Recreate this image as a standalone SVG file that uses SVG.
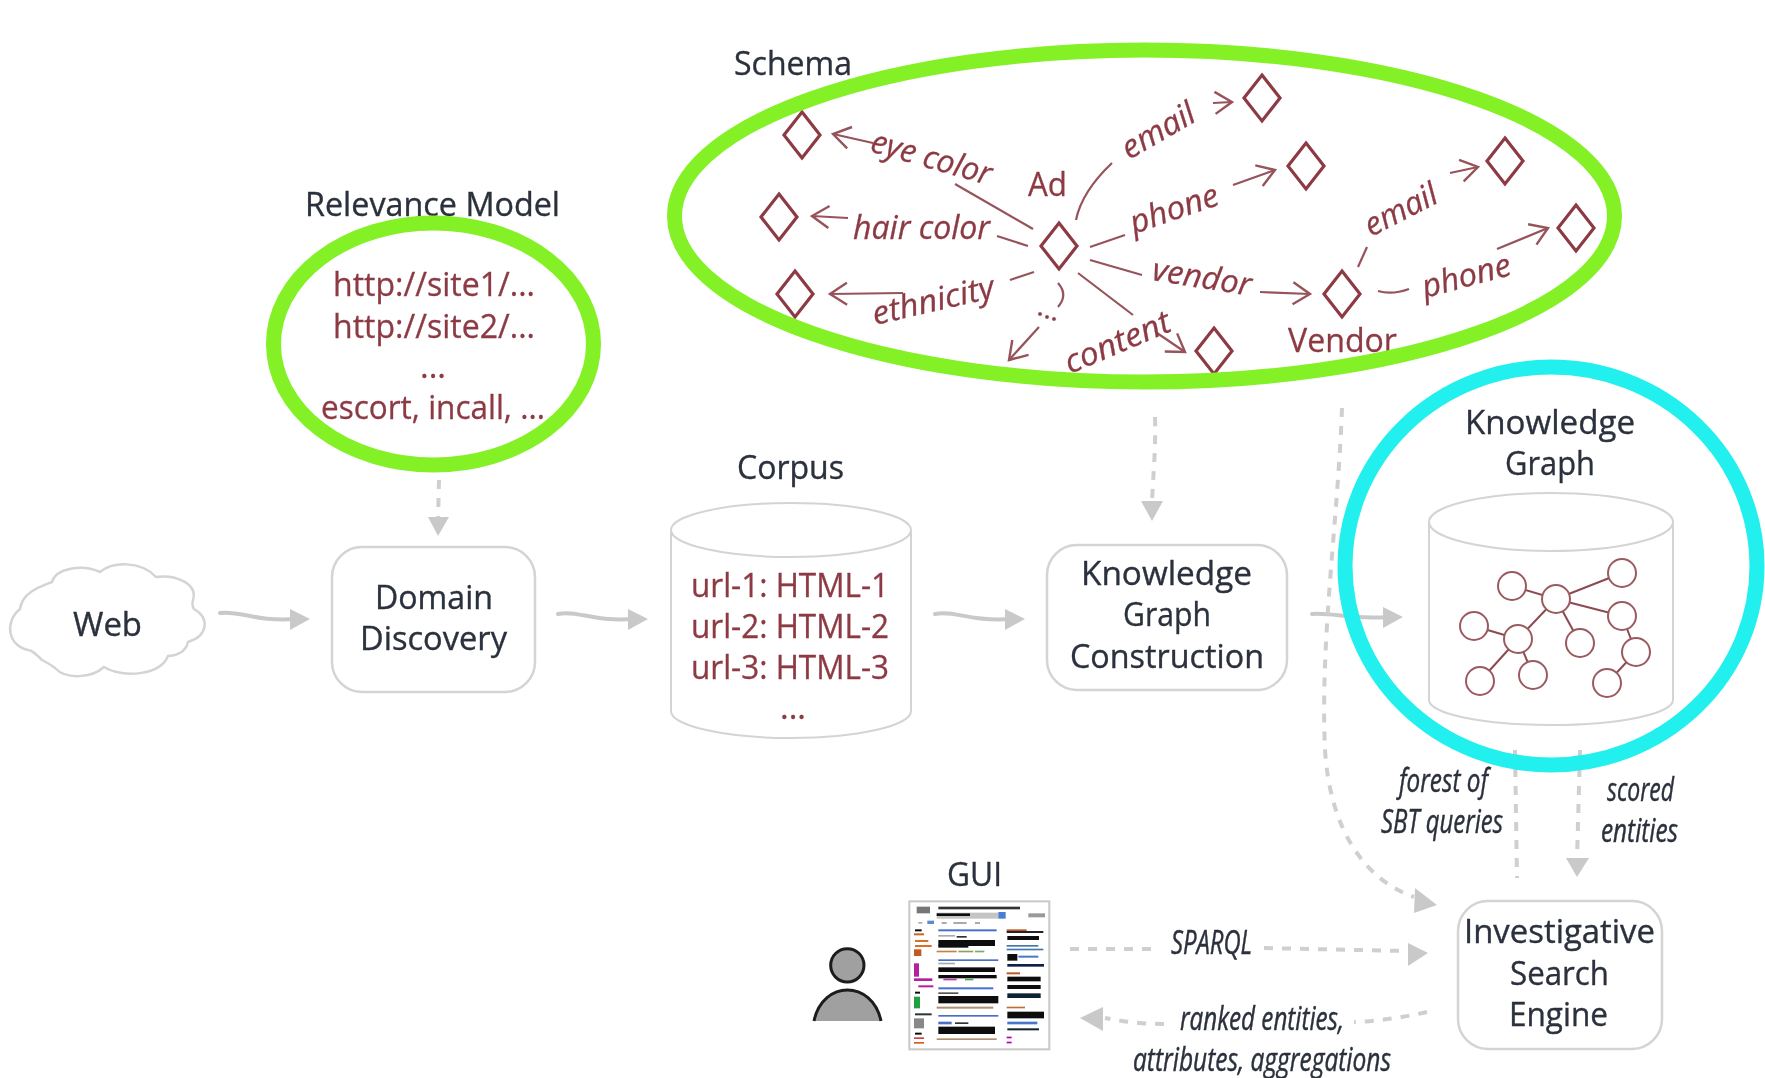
<svg xmlns="http://www.w3.org/2000/svg" width="1765" height="1078" viewBox="0 0 1765 1078">
<style>
text{font-family:"Open Sans","Noto Sans","Liberation Sans",sans-serif;font-size:32px}
.lb{fill:#2b303c;stroke:#2b303c;stroke-width:.35}
.mr{fill:#8c3a44;stroke:#8c3a44;stroke-width:.3}
.it{fill:#2b303c;stroke:#2b303c;stroke-width:.45;font-style:italic;font-size:32px}
.mi{fill:#8c3a44;stroke:#8c3a44;stroke-width:.3;font-style:italic;font-size:32px}
.box{fill:#fff;stroke:#d4d4d4;stroke-width:2.5}
.cyl{fill:#fff;stroke:#d4d4d4;stroke-width:2}
.ring{fill:none;stroke-width:15}
.d{fill:none;stroke:#8c3a44;stroke-width:3.2}
.l{fill:none;stroke:#96525a;stroke-width:2.2}
.a{fill:none;stroke:#96525a;stroke-width:2.2}
.gn{fill:#fff;stroke:#9a5a60;stroke-width:2}
.ge{stroke:#8c4a50;stroke-width:2}
.flow{fill:none;stroke:#c9c9c9;stroke-width:4;stroke-linecap:round}
.dash{fill:none;stroke:#cfcfcf;stroke-width:4;stroke-dasharray:9 9}
.hd{fill:#c9c9c9}
</style>
<defs>
<marker id="ch" markerUnits="userSpaceOnUse" markerWidth="26" markerHeight="30" refX="20" refY="13" orient="auto"><path d="M3,2 L20,13 L3,24" fill="none" stroke="#96525a" stroke-width="2.4"/></marker>
<filter id="soft" x="-5%" y="-5%" width="110%" height="110%"><feGaussianBlur stdDeviation="0.8"/></filter>
<filter id="b" filterUnits="userSpaceOnUse" x="0" y="0" width="1765" height="1078"><feGaussianBlur stdDeviation="0.5"/></filter>
</defs>
<g filter="url(#b)">
<g id="connectors">
<path class="flow" d="M220,613 C240,610 255,622 296,619"/><polygon class="hd" points="310,619 290,609 290,630"/>
<path class="flow" d="M558,614 C578,610 592,622 634,619"/><polygon class="hd" points="648,619 628,609 628,630"/>
<path class="flow" d="M935,614 C955,610 970,622 1010,619"/><polygon class="hd" points="1025,619 1005,609 1005,630"/>
<path class="flow" d="M1312,614 C1332,612 1350,620 1388,617"/><polygon class="hd" points="1403,617 1383,607 1383,628"/>
<path class="dash" d="M439,480 L438,520"/><polygon class="hd" points="438,536 428,517 449,517"/>
<path class="dash" d="M1155,417 C1156,450 1153,475 1152,503"/><polygon class="hd" points="1152,521 1141,501 1163,501"/>
<path class="dash" d="M1342,408 C1338,520 1320,640 1325,750 C1330,830 1365,880 1414,897"/><polygon class="hd" points="1437,905 1415,888 1414,913"/>
<path class="dash" d="M1515,750 L1517,878"/>
<path class="dash" d="M1580,750 L1577,860"/><polygon class="hd" points="1577,877 1566,858 1589,858"/>
<path class="dash" d="M1070,949 L1160,949"/><path class="dash" d="M1264,948 L1405,951"/><polygon class="hd" points="1428,953 1408,943 1408,966"/>
<path class="dash" d="M1427,1012 C1405,1017 1380,1021 1354,1022"/><path class="dash" d="M1164,1024 C1145,1024 1125,1022 1105,1018"/><polygon class="hd" points="1080,1018 1103,1007 1103,1031"/>
</g>

<g id="web"><path class="box" d="M20,609 C22,592 42,586 52,582 C56,568 82,564 100,572 C112,562 140,560 156,577 C176,574 198,584 193,600 C192,604 192,606 194,609 C210,618 208,636 188,642 C186,652 176,656 168,656 C160,676 122,678 104,667 C92,678 66,680 55,668 C50,664 46,662 42,660 C36,654 32,650 28,650 C8,646 4,622 20,609 Z"/>
<text class="lb" x="73" y="636" textLength="69" lengthAdjust="spacingAndGlyphs">Web</text></g>

<g id="domain-discovery"><rect class="box" x="332" y="547" width="203" height="145" rx="30"/>
<text class="lb" x="375" y="609" textLength="118" lengthAdjust="spacingAndGlyphs">Domain</text>
<text class="lb" x="360" y="650" textLength="147" lengthAdjust="spacingAndGlyphs">Discovery</text></g>

<g id="corpus"><text class="lb" x="737" y="479" textLength="107" lengthAdjust="spacingAndGlyphs">Corpus</text>
<path class="cyl" d="M671,530 A120,27 0 0 1 911,530 L911,711 A120,27 0 0 1 671,711 Z"/><path class="cyl" d="M671,530 A120,27 0 0 0 911,530" fill="none"/>
<text class="mr" x="691" y="597" textLength="198" lengthAdjust="spacingAndGlyphs">url-1: HTML-1</text>
<text class="mr" x="691" y="638" textLength="198" lengthAdjust="spacingAndGlyphs">url-2: HTML-2</text>
<text class="mr" x="691" y="679" textLength="198" lengthAdjust="spacingAndGlyphs">url-3: HTML-3</text>
<text class="mr" x="780" y="719" textLength="26" lengthAdjust="spacingAndGlyphs">...</text></g>

<g id="kg-construction"><rect class="box" x="1047" y="545" width="240" height="145" rx="30"/>
<text class="lb" x="1081" y="585" textLength="171" lengthAdjust="spacingAndGlyphs">Knowledge</text>
<text class="lb" x="1123" y="626" textLength="88" lengthAdjust="spacingAndGlyphs">Graph</text>
<text class="lb" x="1070" y="668" textLength="194" lengthAdjust="spacingAndGlyphs">Construction</text></g>

<g id="search-engine"><rect class="box" x="1458" y="901" width="204" height="148" rx="30"/>
<text class="lb" x="1464" y="943" textLength="191" lengthAdjust="spacingAndGlyphs">Investigative</text>
<text class="lb" x="1510" y="985" textLength="99" lengthAdjust="spacingAndGlyphs">Search</text>
<text class="lb" x="1509" y="1026" textLength="99" lengthAdjust="spacingAndGlyphs">Engine</text></g>

<g id="edge-labels">
<text class="it" x="1399" y="792" textLength="89" lengthAdjust="spacingAndGlyphs">forest of</text>
<text class="it" x="1381" y="833" textLength="122" lengthAdjust="spacingAndGlyphs">SBT queries</text>
<text class="it" x="1607" y="801" textLength="67" lengthAdjust="spacingAndGlyphs">scored</text>
<text class="it" x="1601" y="842" textLength="77" lengthAdjust="spacingAndGlyphs">entities</text>
<text class="it" x="1171" y="954" textLength="81" lengthAdjust="spacingAndGlyphs">SPARQL</text>
<text class="it" x="1180" y="1030" textLength="164" lengthAdjust="spacingAndGlyphs">ranked entities,</text>
<text class="it" x="1133" y="1071" textLength="258" lengthAdjust="spacingAndGlyphs">attributes, aggregations</text>
</g>

<g id="gui"><text class="lb" x="947" y="886" textLength="55" lengthAdjust="spacingAndGlyphs">GUI</text>
<g transform="translate(790 850) scale(.33333)" filter="url(#soft)">
<rect x="358" y="154" width="420" height="444" fill="#fff" stroke="#c8c8c8" stroke-width="6"/>
<g fill="#111">
<rect x="445" y="170" width="245" height="8" fill="#333"/><rect x="440" y="188" width="185" height="18" fill="#c4c4c4"/><rect x="440" y="190" width="100" height="8"/><rect x="625" y="186" width="22" height="20" fill="#4a7fd0"/><rect x="380" y="170" width="40" height="20" fill="#777"/><rect x="715" y="190" width="50" height="12" fill="#999"/>
<rect x="385" y="216" width="12" height="5" fill="#aaa"/><rect x="412" y="212" width="20" height="10" fill="#5a8ad8"/><rect x="455" y="216" width="15" height="6" fill="#aaa"/><rect x="490" y="216" width="40" height="6" fill="#aaa"/><rect x="555" y="216" width="15" height="6" fill="#aaa"/>
<rect x="375" y="238" width="20" height="6"/><rect x="372" y="250" width="30" height="6" fill="#d06020"/><rect x="375" y="270" width="40" height="6" fill="#d8702a"/><rect x="375" y="285" width="50" height="6" fill="#d8702a"/><rect x="372" y="298" width="22" height="20" fill="#c05a20"/>
<rect x="372" y="340" width="15" height="40" fill="#b020a0"/><rect x="372" y="385" width="55" height="8" fill="#b020a0"/><rect x="385" y="406" width="45" height="6" fill="#b020a0"/>
<rect x="375" y="425" width="15" height="6"/><rect x="372" y="440" width="18" height="35" fill="#20a040"/><rect x="375" y="490" width="50" height="6" fill="#333"/><rect x="372" y="505" width="30" height="30" fill="#888"/><rect x="375" y="548" width="20" height="6"/><rect x="372" y="562" width="30" height="5" fill="#d04040"/><rect x="372" y="576" width="30" height="5" fill="#d06020"/>
<rect x="445" y="238" width="175" height="6" fill="#4a70c8"/><rect x="445" y="255" width="50" height="5" fill="#aaa"/><rect x="500" y="258" width="30" height="5" fill="#333"/><rect x="445" y="270" width="170" height="18"/><rect x="445" y="285" width="90" height="8"/><rect x="440" y="302" width="60" height="5" fill="#c88040"/><rect x="505" y="302" width="45" height="5" fill="#90a060"/><rect x="555" y="302" width="28" height="5" fill="#70b070"/>
<rect x="445" y="328" width="180" height="5" fill="#4a70c8"/><rect x="445" y="338" width="50" height="5" fill="#aaa"/><rect x="445" y="352" width="170" height="14"/><rect x="445" y="375" width="175" height="10"/><rect x="460" y="386" width="40" height="5" fill="#b040a0"/><rect x="525" y="386" width="25" height="5" fill="#50a050"/>
<rect x="445" y="412" width="165" height="6" fill="#4a70c8"/><rect x="445" y="427" width="60" height="5" fill="#555"/><rect x="445" y="438" width="180" height="22"/><rect x="440" y="470" width="170" height="6" fill="#b09070"/>
<rect x="445" y="495" width="180" height="5" fill="#4a70c8"/><rect x="445" y="515" width="40" height="8" fill="#4a70c8"/><rect x="495" y="517" width="40" height="5" fill="#333"/><rect x="445" y="530" width="170" height="22"/><rect x="440" y="565" width="180" height="5" fill="#b09070"/>
<rect x="650" y="238" width="60" height="6" fill="#c05a20"/><rect x="650" y="243" width="110" height="6" fill="#223"/><rect x="652" y="258" width="95" height="12"/><rect x="650" y="285" width="95" height="5" fill="#47a"/><rect x="650" y="296" width="110" height="5" fill="#47a"/><rect x="652" y="312" width="30" height="20"/><rect x="685" y="317" width="60" height="6" fill="#47c"/><rect x="652" y="342" width="110" height="8" fill="#124"/><rect x="650" y="367" width="40" height="6" fill="#c05a20"/><rect x="652" y="380" width="100" height="14"/><rect x="652" y="405" width="100" height="12"/><rect x="652" y="430" width="100" height="14" fill="#123"/><rect x="650" y="470" width="55" height="5" fill="#c07030"/><rect x="652" y="485" width="110" height="20"/><rect x="652" y="515" width="90" height="8" fill="#47c"/><rect x="652" y="535" width="95" height="6" fill="#123"/><rect x="650" y="560" width="15" height="5" fill="#b0a"/><rect x="650" y="575" width="15" height="5" fill="#b0a"/>
</g></g></g>

<g id="user" transform="translate(790 850) scale(.33333)">
<circle cx="172" cy="346" r="50" fill="#a0a0a0" stroke="#1c1c1c" stroke-width="9"/>
<path d="M72,513 C85,450 130,420 172,420 C215,420 260,450 273,513 Z" fill="#a0a0a0"/>
<path d="M72,513 C85,450 130,420 172,420 C215,420 260,450 273,513" fill="none" stroke="#1c1c1c" stroke-width="9"/>
</g>

<g id="knowledge-graph">
<text class="lb" x="1465" y="434" textLength="170" lengthAdjust="spacingAndGlyphs">Knowledge</text>
<text class="lb" x="1505" y="475" textLength="90" lengthAdjust="spacingAndGlyphs">Graph</text>
<path class="cyl" d="M1429,522 A122,29 0 0 1 1673,522 L1673,700 A122,25 0 0 1 1429,700 Z"/><path class="cyl" d="M1429,522 A122,29 0 0 0 1673,522" fill="none"/>
<g class="ge"><line x1="1512" y1="586" x2="1556" y2="599"/><line x1="1556" y1="599" x2="1622" y2="573"/><line x1="1556" y1="599" x2="1622" y2="616"/><line x1="1556" y1="599" x2="1518" y2="639"/><line x1="1556" y1="599" x2="1580" y2="643"/><line x1="1474" y1="626" x2="1518" y2="639"/><line x1="1518" y1="639" x2="1480" y2="681"/><line x1="1518" y1="639" x2="1533" y2="675"/><line x1="1622" y1="616" x2="1636" y2="652"/><line x1="1636" y1="652" x2="1607" y2="683"/></g>
<g class="gn"><circle cx="1512" cy="586" r="14"/><circle cx="1556" cy="599" r="14"/><circle cx="1622" cy="573" r="14"/><circle cx="1622" cy="616" r="14"/><circle cx="1474" cy="626" r="14"/><circle cx="1518" cy="639" r="14"/><circle cx="1580" cy="643" r="14"/><circle cx="1636" cy="652" r="14"/><circle cx="1480" cy="681" r="14"/><circle cx="1533" cy="675" r="14"/><circle cx="1607" cy="683" r="14"/></g>
<ellipse class="ring" cx="1551" cy="566" rx="206" ry="199" stroke="#22f0ee"/>
</g>

<g id="relevance-model">
<text class="lb" x="305" y="216" textLength="255" lengthAdjust="spacingAndGlyphs">Relevance Model</text>
<text class="mr" x="333" y="296" textLength="202" lengthAdjust="spacingAndGlyphs">http://site1/...</text>
<text class="mr" x="333" y="338" textLength="202" lengthAdjust="spacingAndGlyphs">http://site2/...</text>
<text class="mr" x="420" y="378" textLength="26" lengthAdjust="spacingAndGlyphs">...</text>
<text class="mr" x="321" y="419" textLength="224" lengthAdjust="spacingAndGlyphs">escort, incall, ...</text>
<ellipse class="ring" cx="433.5" cy="344" rx="160" ry="121" stroke="#84f025"/>
</g>

<g id="schema">
<text class="lb" x="734" y="75" textLength="118" lengthAdjust="spacingAndGlyphs">Schema</text>
<g class="l">
<path d="M1033,229 L955,184"/><path d="M1028,246 L997,236"/><path d="M1010,280 L1034,272"/>
<path d="M1058,283 C1066,292 1064,300 1058,307"/><path d="M1078,273 L1133,315"/>
<path d="M1076,220 C1080,200 1092,182 1112,163"/><path d="M1090,247 L1125,235"/><path d="M1090,260 L1142,275"/>
<path d="M1358,267 L1367,247"/><path d="M1378,291 C1388,294 1398,293 1409,289"/>
</g>
<g class="a">
<path marker-end="url(#ch)" d="M873,143 L833,134"/><path marker-end="url(#ch)" d="M848,218 L812,216"/><path marker-end="url(#ch)" d="M903,293 L830,294"/><path marker-end="url(#ch)" d="M1039,327 L1009,360"/><path marker-end="url(#ch)" d="M1157,333 L1185,352"/><path marker-end="url(#ch)" d="M1213,103 L1232,102"/><path marker-end="url(#ch)" d="M1233,185 L1275,170"/><path marker-end="url(#ch)" d="M1260,292 L1310,294"/><path marker-end="url(#ch)" d="M1450,173 L1478,167"/><path marker-end="url(#ch)" d="M1497,249 L1548,228"/>
</g>
<g class="d">
<polygon points="802,112 820,135 802,158 784,135"/><polygon points="779,194 797,217 779,240 761,217"/><polygon points="795,271 813,294 795,317 777,294"/><polygon points="1059,223 1077,246 1059,269 1041,246"/><polygon points="1262,75 1280,98 1262,121 1244,98"/><polygon points="1306,143 1324,166 1306,189 1288,166"/><polygon points="1505,138 1523,161 1505,184 1487,161"/><polygon points="1576,205 1594,228 1576,251 1558,228"/><polygon points="1342,271 1360,294 1342,317 1324,294"/><polygon points="1214,328 1232,351 1214,374 1196,351"/>
</g>
<g class="mr"><circle cx="1040" cy="314" r="1.8"/><circle cx="1047" cy="317" r="1.8"/><circle cx="1054" cy="319" r="1.8"/></g>
<text class="mr" x="1028" y="196" textLength="39" lengthAdjust="spacingAndGlyphs">Ad</text>
<text class="mr" x="1288" y="352" textLength="109" lengthAdjust="spacingAndGlyphs">Vendor</text>
<text class="mi" transform="translate(869 151) rotate(16)" textLength="124" lengthAdjust="spacingAndGlyphs">eye color</text>
<text class="mi" transform="translate(853 239)" textLength="137" lengthAdjust="spacingAndGlyphs">hair color</text>
<text class="mi" transform="translate(875 325) rotate(-13)" textLength="124" lengthAdjust="spacingAndGlyphs">ethnicity</text>
<text class="mi" transform="translate(1070 374) rotate(-23)" textLength="112" lengthAdjust="spacingAndGlyphs">content</text>
<text class="mi" transform="translate(1129 160) rotate(-30)" textLength="80" lengthAdjust="spacingAndGlyphs">email</text>
<text class="mi" transform="translate(1134 234) rotate(-19)" textLength="92" lengthAdjust="spacingAndGlyphs">phone</text>
<text class="mi" transform="translate(1151 280) rotate(9)" textLength="100" lengthAdjust="spacingAndGlyphs">vendor</text>
<text class="mi" transform="translate(1371 237) rotate(-27)" textLength="78" lengthAdjust="spacingAndGlyphs">email</text>
<text class="mi" transform="translate(1425 298) rotate(-15)" textLength="91" lengthAdjust="spacingAndGlyphs">phone</text>
<ellipse class="ring" cx="1144.5" cy="216" rx="470" ry="166" stroke="#84f025"/>
</g>
</g>
</svg>
